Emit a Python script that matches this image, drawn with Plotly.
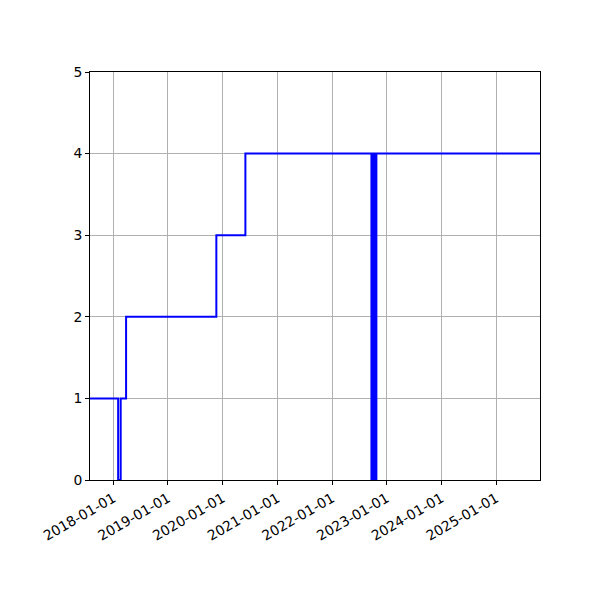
import plotly.graph_objects as go

# step change points (value holds until next date)
dates = [
    "2017-07-29", "2018-02-02", "2018-02-19", "2018-03-27", "2019-11-20", "2020-06-01",
    "2022-09-21", "2022-09-24", "2022-09-27", "2022-09-30", "2022-10-03", "2022-10-06",
    "2022-10-09", "2022-10-12", "2022-10-15", "2022-10-18", "2022-10-21", "2022-10-24",
    "2025-10-21",
]
values = [
    1, 0, 1, 2, 3, 4,
    0, 4, 0, 4, 0, 4,
    0, 4, 0, 4, 0, 4,
    4,
]
x_ticks = ["2018-01-01", "2019-01-01", "2020-01-01", "2021-01-01",
           "2022-01-01", "2023-01-01", "2024-01-01", "2025-01-01"]
y_ticks = [0, 1, 2, 3, 4, 5]

fig = go.Figure()
fig.add_trace(go.Scatter(
    x=dates, y=values, mode="lines",
    line=dict(color="#0000ff", width=2, shape="hv"),
    showlegend=False,
))

font = dict(family="DejaVu Sans", size=13.9, color="black")
fig.update_layout(
    width=600, height=600,
    margin=dict(l=82, r=68, t=64, b=128),
    paper_bgcolor="white", plot_bgcolor="white",
    font=font,
)
fig.update_xaxes(
    type="date", range=["2017-07-29", "2025-10-21"],
    tickvals=x_ticks, ticktext=x_ticks, tickangle=-30,
    showgrid=True, gridcolor="#b0b0b0", gridwidth=1,
    showline=True, linecolor="black", linewidth=1, mirror=True,
    ticks="outside", ticklen=4, tickcolor="black", zeroline=False,
)
fig.update_yaxes(
    range=[0, 5], tickvals=y_ticks,
    showgrid=True, gridcolor="#b0b0b0", gridwidth=1,
    showline=True, linecolor="black", linewidth=1, mirror=True,
    ticks="outside", ticklen=4, tickcolor="black", zeroline=False,
)
fig.write_html("out.html")
